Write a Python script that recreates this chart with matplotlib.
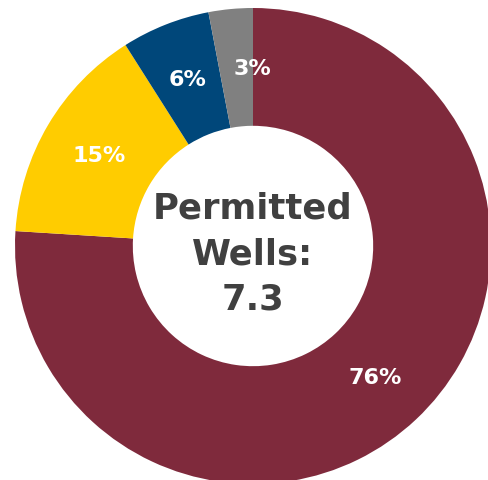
import numpy as np
import matplotlib
matplotlib.use("Agg")
import matplotlib.pyplot as plt

# Share of permitted wells by category
categories = ["Category A", "Category B", "Category C", "Category D"]
shares = [76, 15, 6, 3]
colors = ["#7F2A3C", "#FFCC00", "#00477A", "#808080"]
center_title = "Permitted\nWells:\n7.3"

W, H = 488, 481
fig = plt.figure(figsize=(W / 100, H / 100), dpi=100)
cx, cy, r = 253, 247, 238
ax = fig.add_axes([(cx - r) / W, (H - cy - r) / H, 2 * r / W, 2 * r / H])

ring_width = 0.495
wedges, _ = ax.pie(
    shares,
    colors=colors,
    startangle=90,
    counterclock=False,
    radius=1.0,
    wedgeprops=dict(width=ring_width, edgecolor="none", linewidth=0),
)
ax.set_xlim(-1, 1)
ax.set_ylim(-1, 1)
ax.set_aspect("equal")
ax.axis("off")

font = "DejaVu Sans"
label_r = 1.0 - ring_width / 2
for w, v in zip(wedges, shares):
    mid = np.deg2rad((w.theta1 + w.theta2) / 2)
    x, y = label_r * np.cos(mid), label_r * np.sin(mid)
    if v < 5:
        x += 0.07  # nudge the narrowest slice's label off its edge
    ax.text(x, y, f"{v}%", ha="center", va="center", color="white",
            fontsize=16, fontweight="bold", family=font)

ax.text(0, -0.03, center_title, ha="center", va="center", color="#404040",
        fontsize=25.5, fontweight="bold", family=font, linespacing=1.42)

fig.savefig("out.png", dpi=100)
